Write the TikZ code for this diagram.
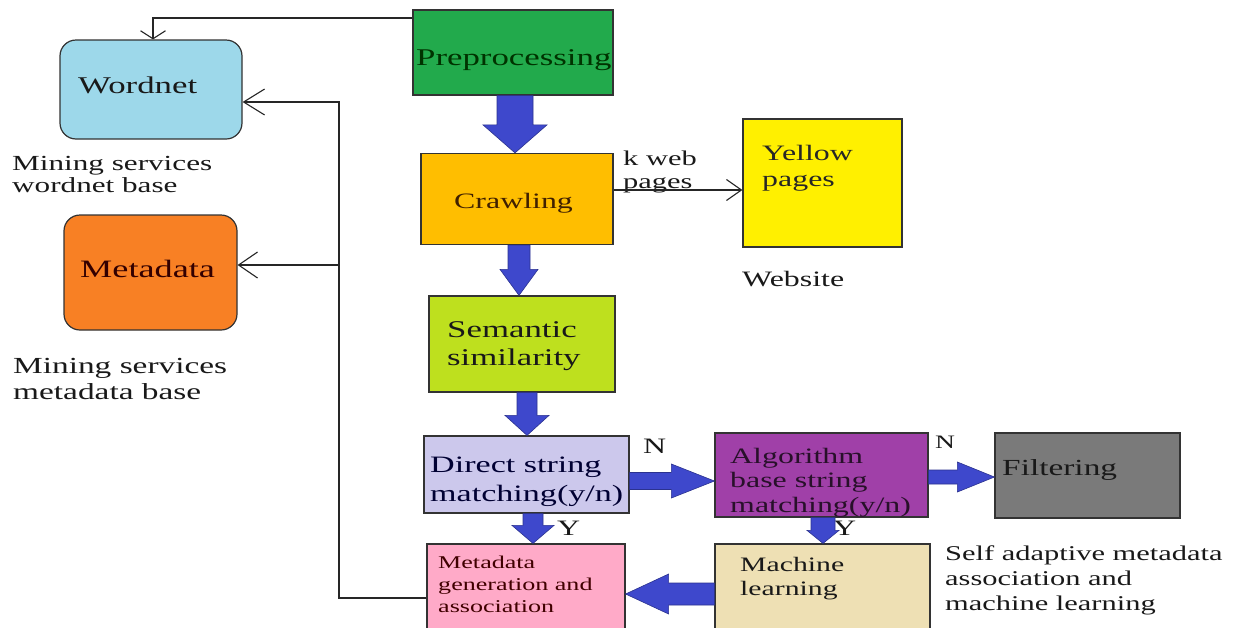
\documentclass[tikz,border=0pt]{standalone}
\usepackage{fontspec}
\setmainfont[FakeStretch=1.45]{Liberation Serif}
\usetikzlibrary{arrows.meta,calc}
\definecolor{cpre}{RGB}{34,170,76}
\definecolor{ccraw}{RGB}{255,190,0}
\definecolor{cyp}{RGB}{255,240,0}
\definecolor{csem}{RGB}{190,224,30}
\definecolor{cdir}{RGB}{204,200,236}
\definecolor{calg}{RGB}{160,64,168}
\definecolor{cfil}{RGB}{122,122,122}
\definecolor{cmg}{RGB}{255,170,200}
\definecolor{cmach}{RGB}{238,224,180}
\definecolor{cwn}{RGB}{157,216,234}
\definecolor{cmd}{RGB}{248,128,36}
\definecolor{cblue}{RGB}{62,72,204}
\newcommand\fs[2]{\fontsize{#1}{#2}\selectfont}
\newcommand\fatdown[6]{\filldraw[fat] let \p1=(#1.south), \p2=(#2.north) in
  (#3pt-#4pt,\y1) -- (#3pt+#4pt,\y1) -- (#3pt+#4pt,\y2+#6pt) -- (#3pt+#5pt,\y2+#6pt) --
  (#3pt,\y2) -- (#3pt-#5pt,\y2+#6pt) -- (#3pt-#4pt,\y2+#6pt) -- cycle;}
\newcommand\fatright[6]{\filldraw[fat] let \p1=(#1.east), \p2=(#2.west) in
  (\x1,-#3pt+#4pt) -- (\x2-#6pt,-#3pt+#4pt) -- (\x2-#6pt,-#3pt+#5pt) -- (\x2,-#3pt) --
  (\x2-#6pt,-#3pt-#5pt) -- (\x2-#6pt,-#3pt-#4pt) -- (\x1,-#3pt-#4pt) -- cycle;}
\newcommand\fatleft[6]{\filldraw[fat] let \p1=(#1.west), \p2=(#2.east) in
  (\x1,-#3pt+#4pt) -- (\x2+#6pt,-#3pt+#4pt) -- (\x2+#6pt,-#3pt+#5pt) -- (\x2,-#3pt) --
  (\x2+#6pt,-#3pt-#5pt) -- (\x2+#6pt,-#3pt-#4pt) -- (\x1,-#3pt-#4pt) -- cycle;}
\begin{document}
\begin{tikzpicture}[x=1pt,y=-1pt,
  box/.style={draw=black!80, line width=1.2pt, rectangle, inner sep=0pt},
  rbox/.style={box, rounded corners=16pt},
  fat/.style={fill=cblue, draw=cblue!70!black, line width=0.6pt},
  conn/.style={draw=black!85, line width=1.1pt},
  txt/.style={inner sep=0pt, align=left, anchor=base west, text=black!90}]
\useasboundingbox (0,0) rectangle (1236,627);
\fill[white] (0,0) rectangle (1236,627);
% boxes
\node[box, fill=cpre, minimum width=200pt, minimum height=85pt] (pre) at (513,52.5) {};
\node[box, fill=ccraw, minimum width=192pt, minimum height=91pt] (craw) at (517,199) {};
\node[box, fill=cyp, minimum width=159pt, minimum height=128pt] (yp) at (822.5,183) {};
\node[box, fill=csem, minimum width=186pt, minimum height=96pt] (sem) at (522,344) {};
\node[box, fill=cdir, minimum width=205pt, minimum height=77pt] (dir) at (526.5,474.5) {};
\node[box, fill=calg, minimum width=213pt, minimum height=84pt] (alg) at (821.5,475) {};
\node[box, fill=cfil, minimum width=185pt, minimum height=85pt] (fil) at (1087.5,475.5) {};
\node[box, fill=cmg, minimum width=198pt, minimum height=96pt] (mg) at (526,592) {};
\node[box, fill=cmach, minimum width=215pt, minimum height=96pt] (mach) at (822.5,592) {};
\node[rbox, fill=cwn, minimum width=182pt, minimum height=99pt] (wn) at (151,89.5) {};
\node[rbox, fill=cmd, minimum width=173pt, minimum height=115pt] (md) at (150.5,272.5) {};
% box texts (multi-line nodes: anchor at the baseline of the last line)
\node[txt, font=\fs{24}{28}, text=black!80!green] (preT) at (416,65) {Preprocessing};
\node[txt, font=\fs{22}{26}, text=black!75!orange] (crawT) at (454,208) {Crawling};
\node[txt, font=\fs{22}{26}, text=black!85] (ypT) at (762,186) {Yellow\\pages};
\node[txt, font=\fs{24}{28}] (semT) at (447,365) {Semantic\\similarity};
\node[txt, font=\fs{23.5}{29}, text=black!80!blue] (dirT) at (430,501) {Direct string\\matching(y/n)};
\node[txt, font=\fs{22}{24.5}, text=black!75!calg] (algT) at (730,512) {Algorithm\\base string\\matching(y/n)};
\node[txt, font=\fs{23}{27}] (filT) at (1002,475) {Filtering};
\node[txt, font=\fs{18}{22}, text=black!75!red] (mgT) at (438,612) {Metadata\\generation and\\association};
\node[txt, font=\fs{20.5}{23.5}] (machT) at (740,595) {Machine\\learning};
\node[txt, font=\fs{24}{28}] (wnT) at (78,93) {Wordnet};
\node[txt, font=\fs{25}{28}, text=black!80!red] (mdT) at (80,277) {Metadata};
% free labels
\node[txt, font=\fs{21.5}{22}] (minW) at (12,192) {Mining services\\wordnet base};
\node[txt, font=\fs{23}{26}] (minM) at (13,399) {Mining services\\metadata base};
\node[txt, font=\fs{22}{26}] (web) at (742,286) {Website};
\node[txt, font=\fs{21}{23}] (kweb) at (623,188) {k web\\pages};
\node[txt, font=\fs{21}{25}] (self) at (945,610) {Self adaptive metadata\\association and\\machine learning};
\node[txt, font=\fs{22}{24}] (n1) at (643,453) {N};
\node[txt, font=\fs{19}{22}] (n2) at (935,448) {N};
\node[txt, font=\fs{22}{24}] (y1) at (557,535) {Y};
\node[txt, font=\fs{22}{24}] (y2) at (833,535) {Y};
% thin connectors
\coordinate (jw) at (339,102);
\coordinate (jm) at (339,265);
\draw[conn, -{Straight Barb[length=8pt,width=25pt]}] (pre.west |- 0,18) -| ([xshift=2pt]wn.north);
\draw[conn, -{Straight Barb[length=21pt,width=26pt]}] (mg.west |- 0,598) -| (jw) -- (wn.east |- jw);
\draw[conn, -{Straight Barb[length=19pt,width=26pt]}] (jm) -- (md.east |- jm);
\draw[conn, -{Straight Barb[length=15pt,width=21pt]}] (craw.east |- 0,190) -- (yp.west |- 0,190);
% fat arrows
\fatdown{pre}{craw}{515}{18}{32}{28}
\fatdown{craw}{sem}{519}{11}{19}{26}
\fatdown{sem}{dir}{527}{10}{22}{20}
\fatdown{dir}{mg}{533}{10}{21}{18}
\fatdown{alg}{mach}{823}{12}{16}{13}
\fatright{dir}{alg}{481}{8.5}{17}{43}
\fatright{alg}{fil}{477}{7}{15}{37}
\fatleft{mach}{mg}{594}{11}{20}{43}
\end{tikzpicture}
\end{document}
